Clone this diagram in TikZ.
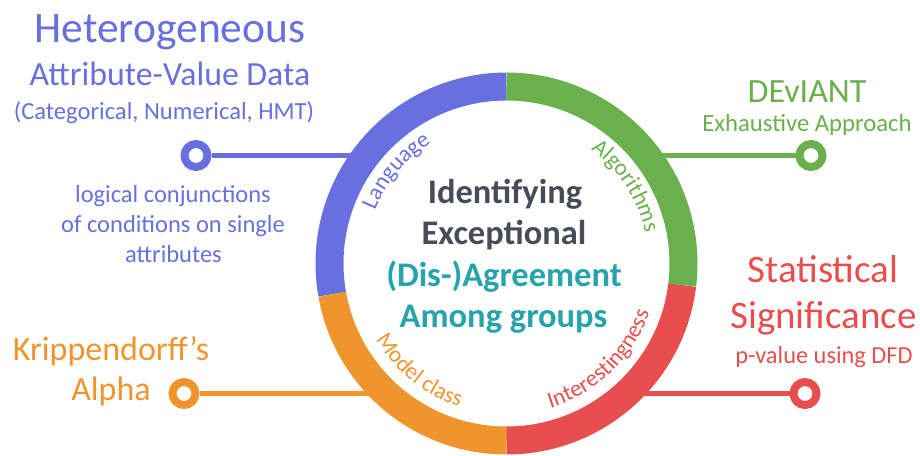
\documentclass[tikz,border=0pt]{standalone}
\usepackage{fontspec}
\setmainfont{Carlito}
\usetikzlibrary{decorations.text}
\definecolor{cblue}{HTML}{6870E0}
\definecolor{cgreen}{HTML}{6AB04C}
\definecolor{cred}{HTML}{E84E4E}
\definecolor{corange}{HTML}{F0952D}
\definecolor{cdark}{HTML}{474C59}
\definecolor{cteal}{HTML}{26A3AB}
\newcommand{\myfs}[1]{\fontsize{#1pt}{#1pt}\selectfont}
\newcommand{\lblfont}{\fontsize{23pt}{23pt}\selectfont}
\begin{document}
\begin{tikzpicture}[x=1pt,y=1pt,
  dot/.style={circle,draw,fill=white,line width=8pt,minimum size=23pt,inner sep=0pt},
  conn/.style={line width=5.5pt},
  ringseg/.style={line width=28pt},
  txt/.style={anchor=base,inner sep=0pt},
  center/.style={txt,font=\myfs{34.5}\bfseries}]
\useasboundingbox (0,0) rectangle (920,455);
\coordinate (C) at (506.5,191.5);

% connectors
\coordinate (eb) at (362,299.5);
\coordinate (eg) at (650,299.5);
\coordinate (eo) at (385,61.5);
\coordinate (er) at (630,61.5);
\node[dot,draw=cblue] (pb) at (196,299.5) {};
\node[dot,draw=cgreen] (pg) at (811,299.5) {};
\node[dot,draw=corange] (po) at (184,61.5) {};
\node[dot,draw=cred] (pr) at (805,61.5) {};
\draw[conn,cblue] (pb) -- (eb);
\draw[conn,cgreen] (pg) -- (eg);
\draw[conn,corange] (po) -- (eo);
\draw[conn,cred] (pr) -- (er);

% ring
\draw[ringseg,cblue] ([shift={(90:177pt)}]C) arc[start angle=90,end angle=190,radius=177pt];
\draw[ringseg,corange] ([shift={(190:177pt)}]C) arc[start angle=190,end angle=270,radius=177pt];
\draw[ringseg,cred] ([shift={(270:177pt)}]C) arc[start angle=270,end angle=353,radius=177pt];
\draw[ringseg,cgreen] ([shift={(-7:177pt)}]C) arc[start angle=-7,end angle=90,radius=177pt];

% ring labels
\path[decorate,decoration={text along path,text={|\lblfont|Language},text align=center,text color=cblue}]
  ([shift={(166:142pt)}]C) arc[start angle=166,end angle=114,radius=142pt];
\path[decorate,decoration={text along path,text={|\lblfont|Algorithms},text align=center,text color=cgreen}]
  ([shift={(66:142pt)}]C) arc[start angle=66,end angle=0,radius=142pt];
\path[decorate,decoration={text along path,text={|\lblfont|Interestingness},text align=center,text color=cred}]
  ([shift={(-80:151pt)}]C) arc[start angle=-80,end angle=-12,radius=151pt];
\path[decorate,decoration={text along path,text={|\lblfont|Model class},text align=center,text color=corange}]
  ([shift={(200:151pt)}]C) arc[start angle=200,end angle=262,radius=151pt];

% center text
\node[center,text=cdark] (c1) at (505,251) {Identifying};
\node[center,text=cdark] (c2) at (504,210) {Exceptional};
\node[center,text=cteal] (c3) at (504,168) {(Dis-)Agreement};
\node[center,text=cteal] (c4) at (503.5,127) {Among groups};

% blue texts
\node[txt,text=cblue,font=\myfs{43.5}] (b1) at (170,412) {Heterogeneous};
\node[txt,text=cblue,font=\myfs{33.8}] (b2) at (170,369) {Attribute-Value Data};
\node[txt,text=cblue,font=\myfs{24.6}] (b3) at (164,335) {(Categorical, Numerical, HMT)};
\node[txt,text=cblue,font=\myfs{24.5}] (b4) at (173,252) {logical conjunctions};
\node[txt,text=cblue,font=\myfs{24.5}] (b5) at (173,222) {of conditions on single};
\node[txt,text=cblue,font=\myfs{24.5}] (b6) at (173.5,192) {attributes};

% green texts
\node[txt,text=cgreen,font=\myfs{34}] (g1) at (807,352) {DEvIANT};
\node[txt,text=cgreen,font=\myfs{24.7}] (g2) at (807,323) {Exhaustive Approach};

% red texts
\node[txt,text=cred,font=\myfs{39}] (r1) at (823,172) {Statistical};
\node[txt,text=cred,font=\myfs{39}] (r2) at (823.5,126) {Significance};
\node[txt,text=cred,font=\myfs{24.4}] (r3) at (824,92) {p-value using DFD};

% orange texts
\node[txt,text=corange,font=\myfs{34}] (o1) at (111,95) {Krippendorff’s};
\node[txt,text=corange,font=\myfs{34}] (o2) at (111,55) {Alpha};
\end{tikzpicture}
\end{document}
